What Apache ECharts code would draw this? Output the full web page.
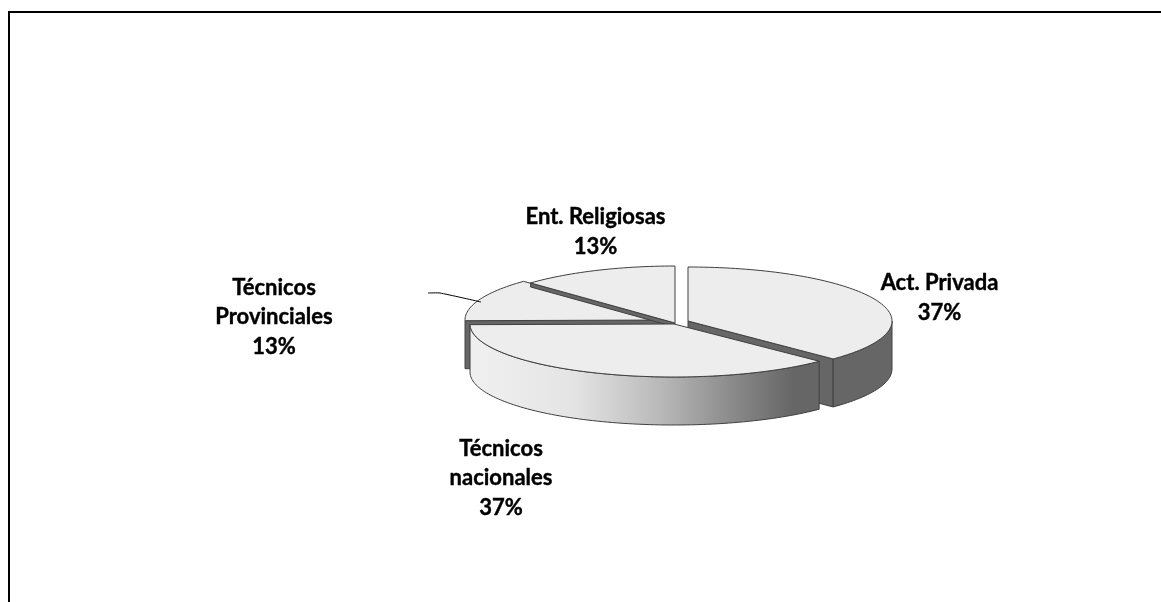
<!DOCTYPE html>
<html>
<head>
<meta charset="utf-8">
<style>html,body{margin:0;padding:0;background:#fff}#c{width:1161px;height:602px}</style>
<script src="https://cdn.jsdelivr.net/npm/echarts@6/dist/echarts.min.js"></script>
</head>
<body>
<div id="c"></div>
<script>
const categories = ['Act. Privada', 'Técnicos\nnacionales', 'Técnicos\nProvinciales', 'Ent. Religiosas'];
const shares = [37.4, 37.4, 12.6, 12.6];

// layout (kept apart from the data)
const RX = [204, 204, 203, 203], DEPTH = 48;
const RY = [54, 53, 55, 57];
const CUT_DEPTH = [48, 48, 48, 4];
const APEX = [[688, 321], [674, 324], [668, 320], [675, 323]];
const LABEL_POS = [[939.5, 298], [501, 478], [274, 317], [595.5, 232]];
const DRAW_ORDER = [0, 2, 3, 1];
const TOP_FILL = '#ededed', DARK = '#666666', EDGE = '#404040';

const total = shares.reduce((a, b) => a + b, 0);
const rad = d => d * Math.PI / 180;
function spans() {
  let a = 0;
  return shares.map(v => { const s = [a, a + v / total * 360]; a = s[1]; return s; });
}
function arc(c, rx, ry, a0, a1, dy) {
  const pts = [], n = Math.max(2, Math.ceil((a1 - a0) / 1.5));
  for (let i = 0; i <= n; i++) {
    const t = rad(a0 + (a1 - a0) * i / n);
    pts.push([c[0] + rx * Math.sin(t), c[1] - ry * Math.cos(t) + dy]);
  }
  return pts;
}
function poly(points, fill, z2) {
  return { type: 'polygon', z2, shape: { points }, style: { fill, stroke: EDGE, lineWidth: 1, lineJoin: 'round' } };
}
function cut(c, rx, ry, a, depth, z2) {
  const t = rad(a), p = [c[0] + rx * Math.sin(t), c[1] - ry * Math.cos(t)];
  return poly([c, p, [p[0], p[1] + depth], [c[0], c[1] + depth]], DARK, z2);
}
const frontGrad = new echarts.graphic.LinearGradient(470, 0, 818, 0, [
  { offset: 0, color: '#f0f0f0' },
  { offset: 0.3, color: '#e4e4e4' },
  { offset: 0.55, color: '#b8b8b8' },
  { offset: 0.8, color: '#808080' },
  { offset: 0.93, color: '#666666' },
  { offset: 1, color: '#666666' }
], true);

function renderItem(params, api) {
  const i = params.dataIndex;
  const order = DRAW_ORDER.indexOf(i) * 10;
  const [a0, a1] = spans()[i];
  const c = APEX[i], rx = RX[i], ry = RY[i];
  const children = [];
  if (Math.sin(rad(a0)) < -1e-6) children.push(cut(c, rx, ry, a0, CUT_DEPTH[i], order + 1));
  if (Math.sin(rad(a1)) > 1e-6) children.push(cut(c, rx, ry, a1, CUT_DEPTH[i], order + 1));
  const w0 = Math.max(a0, 90), w1 = Math.min(a1, 270);
  if (w1 - w0 > 5) {
    const top = arc(c, rx, ry, w0, w1, 0), bot = arc(c, rx, ry, w0, w1, DEPTH).reverse();
    const fill = (w1 - w0) > 100 ? frontGrad : DARK;
    children.push(poly(top.concat(bot), fill, order + 2));
  }
  children.push(poly([c].concat(arc(c, rx, ry, a0, a1, 0)), TOP_FILL, order + 3));
  const pct = Math.round(api.value(0) / total * 100) + '%';
  children.push({
    type: 'text', z2: 100,
    style: {
      text: categories[i] + '\n' + pct,
      x: LABEL_POS[i][0], y: LABEL_POS[i][1],
      align: 'center', verticalAlign: 'middle',
      fontFamily: 'Lato', fontWeight: 'bold', fontSize: 22, lineHeight: 29.5, fill: '#000',
      stroke: '#000', lineWidth: 0.4
    }
  });
  return { type: 'group', children };
}

const chart = echarts.init(document.getElementById('c'), null, { renderer: 'canvas' });
chart.setOption({
  animation: false,
  backgroundColor: '#fff',
  graphic: [
    { type: 'polyline', z: 10, silent: true, shape: { points: [[9, 602], [9, 12], [1161, 12]] },
      style: { stroke: '#000', lineWidth: 2, fill: null } },
    { type: 'polyline', z: 10, silent: true, shape: { points: [[428, 293], [440, 293], [481, 302]], smooth: 0.15 },
      style: { stroke: '#000', lineWidth: 1, fill: null } }
  ],
  series: [{
    type: 'custom',
    coordinateSystem: 'none',
    silent: true,
    renderItem,
    data: shares.map(v => [v])
  }]
});
</script>
</body>
</html>
